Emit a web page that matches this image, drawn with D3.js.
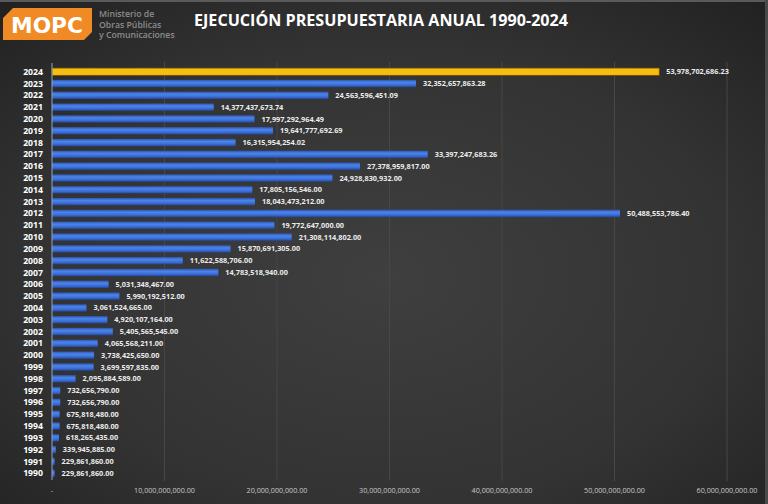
<!DOCTYPE html>
<html><head><meta charset="utf-8">
<script src="https://cdn.jsdelivr.net/npm/d3@7"></script>
<style>html,body{margin:0;padding:0;background:#2b2b2b;}svg{display:block;}</style>
</head><body>
<svg id="c" width="768" height="504"></svg>
<script>
const years = [2024,2023,2022,2021,2020,2019,2018,2017,2016,2015,2014,2013,2012,2011,2010,2009,2008,2007,2006,2005,2004,2003,2002,2001,2000,1999,1998,1997,1996,1995,1994,1993,1992,1991,1990];
const values = [53978702686.23,32352657863.28,24563596451.09,14377437673.74,17997292964.49,19641777692.69,16315954254.02,33397247683.26,27378959817.00,24928830932.00,17805156546.00,18043473212.00,50488553786.40,19772647000.00,21308114802.00,15870691305.00,11622588706.00,14783518940.00,5031348467.00,5990192512.00,3061524665.00,4920107164.00,5405565545.00,4065568211.00,3738425650.00,3699597835.00,2095884589.00,732656790.00,732656790.00,675818480.00,675818480.00,618265435.00,339945885.00,229861860.00,229861860.00];
const tickValues = [0,10e9,20e9,30e9,40e9,50e9,60e9];
const tickLabels = ["-","10,000,000,000.00","20,000,000,000.00","30,000,000,000.00","40,000,000,000.00","50,000,000,000.00","60,000,000,000.00"];
const title = "EJECUCIÓN PRESUPUESTARIA ANUAL 1990-2024";
const logoLines = ["Ministerio de","Obras Públicas","y Comunicaciones"];

const svg = d3.select("#c");
const defs = svg.append("defs");
const bg = defs.append("radialGradient").attr("id","bg").attr("cx","0.5").attr("cy","0.55").attr("r","0.75");
bg.append("stop").attr("offset","0").attr("stop-color","#3f3f3f");
bg.append("stop").attr("offset","0.6").attr("stop-color","#333333");
bg.append("stop").attr("offset","1").attr("stop-color","#212121");
const bl = defs.append("linearGradient").attr("id","blue").attr("x1",0).attr("y1",0).attr("x2",0).attr("y2",1);
bl.append("stop").attr("offset","0").attr("stop-color","#2d56b0");
bl.append("stop").attr("offset","0.35").attr("stop-color","#4c84ea");
bl.append("stop").attr("offset","0.7").attr("stop-color","#3a6ed6");
bl.append("stop").attr("offset","1").attr("stop-color","#24479a");

svg.append("rect").attr("width",768).attr("height",504).attr("fill","url(#bg)");
svg.append("rect").attr("x",0).attr("y",0).attr("width",768).attr("height",2).attr("fill","#5a5a5a");
svg.append("rect").attr("x",765).attr("y",0).attr("width",3).attr("height",504).attr("fill","#4a4a4a");

const x = d3.scaleLinear().domain([0,60e9]).range([52,727]);
const y = d3.scaleBand().domain(years).range([65.8,479.2]).paddingInner(0.38).paddingOuter(0.19);

// gridlines
svg.append("g").selectAll("line").data(tickValues.slice(1)).join("line")
  .attr("x1",d=>x(d)).attr("x2",d=>x(d)).attr("y1",62).attr("y2",481)
  .attr("stroke","#474747").attr("stroke-width",1);

// bars
const data = years.map((yr,i)=>({yr, v:values[i]}));
svg.append("g").selectAll("rect").data(data).join("rect")
  .attr("x",x(0)).attr("y",d=>y(d.yr))
  .attr("width",d=>Math.max(2.5,x(d.v)-x(0))).attr("height",y.bandwidth())
  .attr("fill",d=>d.yr===2024?"#f7bd12":"url(#blue)")
  .attr("stroke",d=>d.yr===2024?"#6b5200":"none").attr("stroke-width",0.8);

// axis line
svg.append("line").attr("x1",x(0)).attr("x2",x(0)).attr("y1",63).attr("y2",480)
  .attr("stroke","#8ea4c8").attr("stroke-width",1);

// value labels
const fmt = d3.format(",.2f");
svg.append("g").selectAll("text").data(data).join("text")
  .attr("x",d=>Math.max(x(d.v),x(0)+2.5)+7).attr("y",d=>y(d.yr)+y.bandwidth()/2)
  .attr("dy","0.35em").attr("fill","#ececec")
  .style("font-family","'Open Sans'").style("font-size","7.3px").style("font-weight","700")
  .text(d=>fmt(d.v));

// year labels
svg.append("g").selectAll("text").data(data).join("text")
  .attr("x",43).attr("y",d=>y(d.yr)+y.bandwidth()/2).attr("dy","0.35em")
  .attr("text-anchor","end").attr("fill","#ffffff")
  .style("font-family","'Open Sans'").style("font-size","8.7px").style("font-weight","700")
  .text(d=>d.yr);

// x tick labels
svg.append("g").selectAll("text").data(tickValues).join("text")
  .attr("x",d=>x(d)).attr("y",493).attr("text-anchor","middle").attr("fill","#c8c8c8")
  .style("font-family","'Open Sans'").style("font-size","7.2px")
  .text((d,i)=>tickLabels[i]);

// title
svg.append("text").attr("x",194).attr("y",26).attr("fill","#ffffff")
  .style("font-family","'Open Sans'").style("font-size","15.5px").style("font-weight","700")
  .attr("textLength",374).attr("lengthAdjust","spacingAndGlyphs")
  .text(title);

// logo
svg.append("path").attr("d","M13,8 L92,8 L92,32 L84,40 L3,40 L3,18 Z").attr("fill","#f08a24");
svg.append("text").attr("x",47).attr("y",33).attr("text-anchor","middle").attr("fill","#ffffff")
  .style("font-family","'DejaVu Sans'").style("font-size","22px").style("font-weight","700")
  .attr("textLength",72).attr("lengthAdjust","spacingAndGlyphs").text("MOPC");
svg.append("g").selectAll("text").data(logoLines).join("text")
  .attr("x",99).attr("y",(d,i)=>17+i*10.5).attr("fill","#8c8c8c")
  .style("font-family","'Open Sans'").style("font-size","8.7px").style("font-weight","600")
  .text(d=>d);
</script>
</body></html>
